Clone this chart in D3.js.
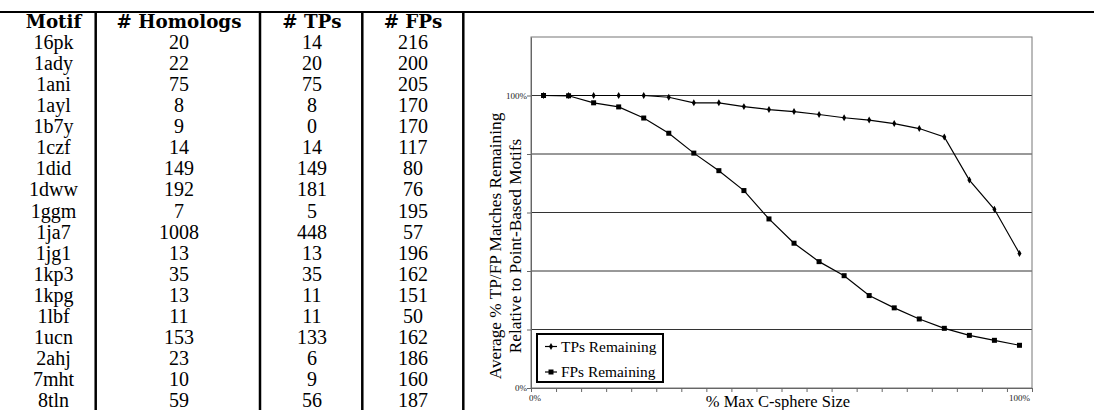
<!DOCTYPE html>
<html>
<head>
<meta charset="utf-8">
<script src="https://cdn.jsdelivr.net/npm/d3@7"></script>
<style>
  body { margin: 0; background: #fff; }
  svg { display: block; }
</style>
</head>
<body>
<svg id="fig" width="1094" height="410"></svg>
<script>
// table columns
const motifs   = ["16pk","1ady","1ani","1ayl","1b7y","1czf","1did","1dww","1ggm","1ja7","1jg1","1kp3","1kpg","1lbf","1ucn","2ahj","7mht","8tln"];
const homologs = [20, 22, 75, 8, 9, 14, 149, 192, 7, 1008, 13, 35, 13, 11, 153, 23, 10, 59];
const numTPs   = [14, 20, 75, 8, 0, 14, 149, 181, 5, 448, 13, 35, 11, 11, 133, 6, 9, 56];
const numFPs   = [216, 200, 205, 170, 170, 117, 80, 76, 195, 57, 196, 162, 151, 50, 162, 186, 160, 187];
const headers  = ["Motif", "# Homologs", "# TPs", "# FPs"];

// chart series (percent remaining at each C-sphere size step)
const sizeSteps   = ["5%","10%","15%","20%","25%","30%","35%","40%","45%","50%","55%","60%","65%","70%","75%","80%","85%","90%","95%","100%"];
const tpRemaining = [100, 100, 100, 100, 100, 99.4, 97.5, 97.5, 96.2, 95.2, 94.5, 93.5, 92.4, 91.6, 90.4, 88.7, 85.8, 71.1, 61.1, 46.0];
const fpRemaining = [100, 99.9, 97.5, 96.1, 92.3, 87.1, 80.3, 74.3, 67.5, 57.8, 49.5, 43.2, 38.4, 31.6, 27.4, 23.6, 20.4, 18.0, 16.3, 14.6];
const yTicks      = [0, 20, 40, 60, 80, 100];
const yShown      = [0, 100];
const seriesNames = ["TPs Remaining", "FPs Remaining"];

const svg = d3.select("#fig");

// ---------- table ----------
let colCenters = [53.5, 179, 312, 413];
let colLines = [95.7, 260, 362.3, 463.3];
let rowY = d3.scaleLinear().domain([0, 1]).range([41.7, 62.8]);

let table = svg.append("g").attr("class", "table");

table.append("line")
    .attr("x1", 0).attr("x2", 1094)
    .attr("y1", 12).attr("y2", 12)
    .attr("stroke", "#000").attr("stroke-width", 2);

colLines.forEach(function(cx){
    table.append("line")
        .attr("x1", cx).attr("x2", cx)
        .attr("y1", 12).attr("y2", 410)
        .attr("stroke", "#000").attr("stroke-width", 2.5);
});

table.selectAll("text.head")
    .data(headers)
    .join("text")
    .attr("class", "head")
    .attr("x", (d, i) => colCenters[i])
    .attr("y", 21)
    .attr("dy", "0.36em")
    .attr("text-anchor", "middle")
    .attr("font-family", "DejaVu Serif")
    .attr("font-weight", "bold")
    .attr("font-size", 18.3)
    .text(d => d);

let cols = [motifs, homologs, numTPs, numFPs];
cols.forEach(function(col, ci){
    table.selectAll("text.c" + ci)
        .data(col)
        .join("text")
        .attr("class", "c" + ci)
        .attr("x", colCenters[ci])
        .attr("y", (d, i) => rowY(i))
        .attr("dy", "0.35em")
        .attr("text-anchor", "middle")
        .attr("font-family", "Liberation Serif")
        .attr("font-size", 20)
        .text(d => d);
});

// ---------- chart ----------
let plotL = 531, plotR = 1032, plotT = 37, plotB = 388;

let x = d3.scaleBand().domain(sizeSteps).range([plotL, plotR]);
let xEdge = d3.scaleLinear().domain([0, sizeSteps.length]).range([plotL, plotR]);
let y = d3.scaleLinear().domain([0, 120]).range([plotB, plotT]);

let chart = svg.append("g").attr("class", "chart");

// white panel over the rule
chart.append("rect")
    .attr("x", 470).attr("y", 13)
    .attr("width", 587).attr("height", 397)
    .attr("fill", "#fff");

// grid lines
chart.selectAll("line.grid")
    .data(yTicks.filter(d => d > 0))
    .join("line")
    .attr("class", "grid")
    .attr("x1", plotL).attr("x2", plotR)
    .attr("y1", d => y(d)).attr("y2", d => y(d))
    .attr("stroke", "#333").attr("stroke-width", 1);

// plot frame
chart.append("rect")
    .attr("x", plotL).attr("y", plotT)
    .attr("width", plotR - plotL).attr("height", plotB - plotT)
    .attr("fill", "none").attr("stroke", "#777").attr("stroke-width", 1);

// y axis
let yAxis = chart.append("g")
    .attr("transform", "translate(" + plotL + ",0)")
    .call(d3.axisLeft(y).tickValues(yTicks).tickSize(4).tickSizeOuter(0)
        .tickFormat(d => yShown.includes(d) ? d + "%" : ""));
yAxis.select(".domain").attr("stroke", "#666");
yAxis.selectAll(".tick line").attr("stroke", "#666");
yAxis.selectAll("text")
    .attr("font-family", "Liberation Serif").attr("font-size", 9).attr("fill", "#222")
    .attr("x", -4);

// x axis: ticks on category edges
let xAxis = chart.append("g")
    .attr("transform", "translate(0," + plotB + ")")
    .call(d3.axisBottom(xEdge).ticks(sizeSteps.length).tickSize(4).tickSizeOuter(0).tickFormat(""));
xAxis.select(".domain").attr("stroke", "#666");
xAxis.selectAll(".tick line").attr("stroke", "#666");

// x tick labels (first and last only)
chart.append("text")
    .attr("x", x(sizeSteps[0]) + x.bandwidth() * 0.16)
    .attr("y", 398).attr("dy", "0.35em")
    .attr("text-anchor", "middle")
    .attr("font-family", "Liberation Serif").attr("font-size", 9).attr("fill", "#222")
    .text("0%");
chart.append("text")
    .attr("x", x(sizeSteps[sizeSteps.length - 1]) + x.bandwidth() / 2)
    .attr("y", 398).attr("dy", "0.35em")
    .attr("text-anchor", "middle")
    .attr("font-family", "Liberation Serif").attr("font-size", 9).attr("fill", "#222")
    .text("100%");

// axis titles
chart.append("text")
    .attr("x", 778).attr("y", 407)
    .attr("text-anchor", "middle")
    .attr("font-family", "Liberation Serif").attr("font-size", 16.5)
    .text("% Max C-sphere Size");

let yTitle = chart.append("text")
    .attr("transform", "translate(495,246) rotate(-90)")
    .attr("text-anchor", "middle")
    .attr("font-family", "Liberation Serif").attr("font-size", 17.3);
yTitle.append("tspan").attr("x", 0).attr("dy", "0.35em").text("Average % TP/FP Matches Remaining");
yTitle.append("tspan").attr("x", 0).attr("dy", "1.15em").text("Relative to Point-Based Motifs");

// lines
let line = d3.line()
    .x((d, i) => x(sizeSteps[i]) + x.bandwidth() / 2)
    .y(d => y(d));

[tpRemaining, fpRemaining].forEach(function(series){
    chart.append("path")
        .attr("d", line(series))
        .attr("fill", "none").attr("stroke", "#000").attr("stroke-width", 1.2);
});

// markers
chart.selectAll("path.tp")
    .data(tpRemaining)
    .join("path")
    .attr("class", "tp")
    .attr("transform", (d, i) => "translate(" + (x(sizeSteps[i]) + x.bandwidth() / 2) + "," + y(d) + ")")
    .attr("d", d3.symbol(d3.symbolDiamond, 14))
    .attr("fill", "#000");

chart.selectAll("rect.fp")
    .data(fpRemaining)
    .join("rect")
    .attr("class", "fp")
    .attr("x", (d, i) => x(sizeSteps[i]) + x.bandwidth() / 2 - 2.5)
    .attr("y", d => y(d) - 2.5)
    .attr("width", 5).attr("height", 5)
    .attr("fill", "#000");

// legend
let legend = chart.append("g").attr("transform", "translate(537,334)");
legend.append("rect")
    .attr("width", 126).attr("height", 48)
    .attr("fill", "#fff").attr("stroke", "#000").attr("stroke-width", 2);

seriesNames.forEach(function(name, i){
    let gy = 12.5 + i * 25.5;
    legend.append("line")
        .attr("x1", 8).attr("x2", 20)
        .attr("y1", gy).attr("y2", gy)
        .attr("stroke", "#000").attr("stroke-width", 1.2);
    if (i === 0) {
        legend.append("path")
            .attr("transform", "translate(14," + gy + ")")
            .attr("d", d3.symbol(d3.symbolDiamond, 14))
            .attr("fill", "#000");
    } else {
        legend.append("rect")
            .attr("x", 11.5).attr("y", gy - 2.5)
            .attr("width", 5).attr("height", 5)
            .attr("fill", "#000");
    }
    legend.append("text")
        .attr("x", 24).attr("y", gy).attr("dy", "0.35em")
        .attr("font-family", "Liberation Serif").attr("font-size", 15.4)
        .text(name);
});
</script>
</body>
</html>
